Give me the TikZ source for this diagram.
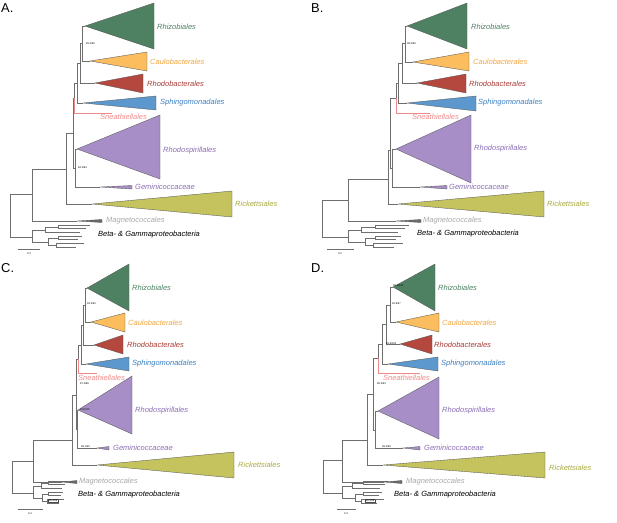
\documentclass[tikz,border=0pt]{standalone}
\usepackage{fontspec}
\setsansfont{Liberation Sans}
\usetikzlibrary{positioning}
\definecolor{rhizo}{HTML}{4E8162}
\definecolor{caulo}{HTML}{FBBD5E}
\definecolor{caulotext}{HTML}{F3A63E}
\definecolor{rhodob}{HTML}{B4473E}
\definecolor{rhodobtext}{HTML}{A93B35}
\definecolor{sphingo}{HTML}{5C98CD}
\definecolor{sphingotext}{HTML}{3C7FC0}
\definecolor{sneath}{HTML}{F08A8A}
\definecolor{rhodosp}{HTML}{A78EC6}
\definecolor{rhodosptext}{HTML}{8B6DB5}
\definecolor{rickett}{HTML}{C4C35E}
\definecolor{ricketttext}{HTML}{A9A940}
\definecolor{magneto}{HTML}{6A6A6A}
\definecolor{magnetotext}{HTML}{A8A8A8}
\definecolor{branchgrey}{HTML}{6E6E6E}

\tikzset{
  branch/.style={draw=branchgrey, line width=0.35pt},
  clade/.style={draw=black!65, line width=0.3pt},
  taxon/.style={anchor=west, inner sep=0pt, font=\sffamily\itshape\fontsize{6.4}{7}\selectfont},
  support/.style={anchor=west, inner sep=0pt, font=\sffamily\fontsize{2.2}{2.5}\selectfont},
  tag/.style={anchor=base west, inner sep=0pt, font=\sffamily\fontsize{11}{12}\selectfont},
}

% collapsed clade: apex, right x, top y, bottom y, colour
\newcommand{\clade}[5]{\filldraw[clade, fill=#5] (#1) -- (#2,#3) -- (#2,#4) -- cycle;}

% backbone of the tree, same topology in every panel
\newcommand{\skeleton}[1]{%
  \draw[branch] (#1-root) |- (#1-n0);
  \draw[branch] (#1-root) |- (#1-og);
  \draw[branch] (#1-n0) |- (#1-n1);
  \draw[branch] (#1-n0) |- (#1-mag);
  \draw[branch] (#1-n1) |- (#1-n2);
  \draw[branch] (#1-n1) |- (#1-ric);
  \draw[branch] (#1-n2) |- (#1-nd);
  \draw[branch] (#1-n2) |- (#1-n4);
  \draw[branch, draw=sneath] (#1-nd) |- (#1-snt);
  \draw[branch] (#1-nd) |- (#1-nc);
  \draw[branch] (#1-nc) |- (#1-nb);
  \draw[branch] (#1-nc) |- (#1-sph);
  \draw[branch] (#1-nb) |- (#1-na);
  \draw[branch] (#1-nb) |- (#1-rhb);
  \draw[branch] (#1-na) |- (#1-rhz);
  \draw[branch] (#1-na) |- (#1-cau);
  \draw[branch] (#1-n4) |- (#1-rsp);
  \draw[branch] (#1-n4) |- (#1-gem);
}

% Beta- & Gammaproteobacteria outgroup: panel, horizontal scale
\newcommand{\outgroup}[2]{%
  \begin{scope}[shift={(#1-og)}, xscale=#2]
    \coordinate (#1-s1) at (13,-7);
    \coordinate (#1-s2) at (16,5);
    \coordinate (#1-t1) at (26,-10);
    \coordinate (#1-t2) at (26,1);
    \coordinate (#1-t3) at (24,8);
    \coordinate (#1-l1) at (58,-12);
    \coordinate (#1-l2) at (54,-9);
    \coordinate (#1-l3) at (48,-5);
    \coordinate (#1-l4) at (50,-1);
    \coordinate (#1-l5) at (46,2);
    \coordinate (#1-l6) at (52,6);
    \coordinate (#1-l7) at (44,10);
    \draw[branch] (#1-og) |- (#1-s1);
    \draw[branch] (#1-og) |- (#1-s2);
    \draw[branch] (#1-s1) |- (#1-t1);
    \draw[branch] (#1-s1) |- (#1-l3);
    \draw[branch] (#1-t1) |- (#1-l1);
    \draw[branch] (#1-t1) |- (#1-l2);
    \draw[branch] (#1-s2) |- (#1-t2);
    \draw[branch] (#1-s2) |- (#1-t3);
    \draw[branch] (#1-t2) |- (#1-l4);
    \draw[branch] (#1-t2) |- (#1-l5);
    \draw[branch] (#1-t3) |- (#1-l6);
    \draw[branch] (#1-t3) |- (#1-l7);
  \end{scope}
}

\begin{document}
\begin{tikzpicture}[x=0.03cm, y=-0.03cm]
  \useasboundingbox (0,0) rectangle (617,522);

  % ---------------- Panel A ----------------
  \node[tag] (A-tag) at (1,12) {A.};
  \coordinate (A-root) at (10,215);
  \coordinate (A-n0) at (32,194);
  \coordinate (A-og) at (32,237);
  \coordinate (A-n1) at (66,169);
  \coordinate (A-mag) at (77,221);
  \coordinate (A-n2) at (73,133);
  \coordinate (A-ric) at (92,204);
  \coordinate (A-nd) at (74,98);
  \coordinate (A-n4) at (75,168);
  \coordinate (A-nc) at (77,83);
  \coordinate (A-snt) at (112,113);
  \coordinate (A-nb) at (80,63);
  \coordinate (A-sph) at (83,103);
  \coordinate (A-na) at (82,43);
  \coordinate (A-rhb) at (95,83);
  \coordinate (A-rhz) at (85,26);
  \coordinate (A-cau) at (90,61);
  \coordinate (A-rsp) at (77,149);
  \coordinate (A-gem) at (100,187);
  \skeleton{A}
  \outgroup{A}{1}
  \clade{A-rhz}{154}{3}{49}{rhizo}
  \clade{A-cau}{147}{52}{71}{caulo}
  \clade{A-rhb}{143}{74}{93}{rhodob}
  \clade{A-sph}{156}{96}{110}{sphingo}
  \clade{A-rsp}{160}{115}{179}{rhodosp}
  \clade{A-gem}{132}{185.5}{189}{rhodosp}
  \clade{A-ric}{232}{191}{217}{rickett}
  \clade{A-mag}{102}{219.5}{222.5}{magneto}
  \node[taxon, text=rhizo] (A-rhz-lab) at (157,27) {Rhizobiales};
  \node[taxon, text=caulotext] (A-cau-lab) at (150,62) {Caulobacterales};
  \node[taxon, text=rhodobtext] (A-rhb-lab) at (147,84) {Rhodobacterales};
  \node[taxon, text=sphingotext] (A-sph-lab) at (160,103) {Sphingomonadales};
  \node[taxon, text=sneath] (A-snt-lab) at (100,117) {Sneathiellales};
  \node[taxon, text=rhodosptext] (A-rsp-lab) at (163,151) {Rhodospirillales};
  \node[taxon, text=rhodosptext] (A-gem-lab) at (135,187) {Geminicoccaceae};
  \node[taxon, text=ricketttext] (A-ric-lab) at (235,204) {Rickettsiales};
  \node[taxon, text=magnetotext] (A-mag-lab) at (106,221) {Magnetococcales};
  \node[taxon] (A-og-lab) at (98,235) {Beta- \& Gammaproteobacteria};
  \node[support] (A-sup1) at (86,44) {99.4/99};
  \node[support] (A-sup2) at (78,168) {84.2/84};
  \coordinate (A-bar0) at (18,249);
  \coordinate (A-bar1) at (40,249);
  \draw[branch] (A-bar0) -- (A-bar1);
  \node[support, anchor=north] (A-barlab) at (29,252) {0.3};

  % ---------------- Panel B ----------------
  \node[tag] (B-tag) at (311,12) {B.};
  \coordinate (B-root) at (322,218);
  \coordinate (B-n0) at (348,200);
  \coordinate (B-og) at (348,237);
  \coordinate (B-n1) at (388,179);
  \coordinate (B-mag) at (396,221);
  \coordinate (B-n2) at (390,150);
  \coordinate (B-ric) at (398,204);
  \coordinate (B-nd) at (396,98);
  \coordinate (B-n4) at (392,168);
  \coordinate (B-nc) at (398,83);
  \coordinate (B-snt) at (430,113);
  \coordinate (B-nb) at (402,63);
  \coordinate (B-sph) at (407,103);
  \coordinate (B-na) at (405,43);
  \coordinate (B-rhb) at (417,83);
  \coordinate (B-rhz) at (407,26);
  \coordinate (B-cau) at (413,62);
  \coordinate (B-rsp) at (396,149);
  \coordinate (B-gem) at (420,187);
  \skeleton{B}
  \outgroup{B}{1.05}
  \clade{B-rhz}{467}{3}{49}{rhizo}
  \clade{B-cau}{469}{52}{71}{caulo}
  \clade{B-rhb}{466}{74}{93}{rhodob}
  \clade{B-sph}{476}{96}{111}{sphingo}
  \clade{B-rsp}{471}{115}{183}{rhodosp}
  \clade{B-gem}{447}{185.5}{189}{rhodosp}
  \clade{B-ric}{544}{191}{217}{rickett}
  \clade{B-mag}{421}{219.5}{222.5}{magneto}
  \node[taxon, text=rhizo] (B-rhz-lab) at (471,27) {Rhizobiales};
  \node[taxon, text=caulotext] (B-cau-lab) at (473,62) {Caulobacterales};
  \node[taxon, text=rhodobtext] (B-rhb-lab) at (469,84) {Rhodobacterales};
  \node[taxon, text=sphingotext] (B-sph-lab) at (478,103) {Sphingomonadales};
  \node[taxon, text=sneath] (B-snt-lab) at (412,117) {Sneathiellales};
  \node[taxon, text=rhodosptext] (B-rsp-lab) at (474,149) {Rhodospirillales};
  \node[taxon, text=rhodosptext] (B-gem-lab) at (449,187) {Geminicoccaceae};
  \node[taxon, text=ricketttext] (B-ric-lab) at (547,204) {Rickettsiales};
  \node[taxon, text=magnetotext] (B-mag-lab) at (423,221) {Magnetococcales};
  \node[taxon] (B-og-lab) at (417,234) {Beta- \& Gammaproteobacteria};
  \node[support] (B-sup1) at (407,44) {98.0/99};
  \coordinate (B-bar0) at (327,249);
  \coordinate (B-bar1) at (354,249);
  \draw[branch] (B-bar0) -- (B-bar1);
  \node[support, anchor=north] (B-barlab) at (340,252) {0.2};

  % ---------------- Panel C ----------------
  \node[tag] (C-tag) at (1,272) {C.};
  \coordinate (C-root) at (12,477);
  \coordinate (C-n0) at (33,461);
  \coordinate (C-og) at (33,493);
  \coordinate (C-n1) at (72,440);
  \coordinate (C-mag) at (62,482);
  \coordinate (C-n2) at (76,395);
  \coordinate (C-ric) at (97,465);
  \coordinate (C-nd) at (78,359);
  \coordinate (C-n4) at (77,429);
  \coordinate (C-nc) at (81,345);
  \coordinate (C-snt) at (97,373);
  \coordinate (C-nb) at (83,325);
  \coordinate (C-sph) at (86,364);
  \coordinate (C-na) at (85,305);
  \coordinate (C-rhb) at (94,345);
  \coordinate (C-rhz) at (87,288);
  \coordinate (C-cau) at (91,322);
  \coordinate (C-rsp) at (78,410);
  \coordinate (C-gem) at (97,448);
  \skeleton{C}
  \outgroup{C}{0.6}
  \clade{C-rhz}{129}{264}{311}{rhizo}
  \clade{C-cau}{125}{313}{332}{caulo}
  \clade{C-rhb}{123}{335}{354}{rhodob}
  \clade{C-sph}{129}{357}{371}{sphingo}
  \clade{C-rsp}{132}{376}{434}{rhodosp}
  \clade{C-gem}{109}{446.5}{450}{rhodosp}
  \clade{C-ric}{234}{452}{478}{rickett}
  \clade{C-mag}{77}{480.5}{483.5}{magneto}
  \node[taxon, text=rhizo] (C-rhz-lab) at (132,288) {Rhizobiales};
  \node[taxon, text=caulotext] (C-cau-lab) at (128,323) {Caulobacterales};
  \node[taxon, text=rhodobtext] (C-rhb-lab) at (127,345) {Rhodobacterales};
  \node[taxon, text=sphingotext] (C-sph-lab) at (132,364) {Sphingomonadales};
  \node[taxon, text=sneath] (C-snt-lab) at (78,378) {Sneathiellales};
  \node[taxon, text=rhodosptext] (C-rsp-lab) at (135,411) {Rhodospirillales};
  \node[taxon, text=rhodosptext] (C-gem-lab) at (113,448) {Geminicoccaceae};
  \node[taxon, text=ricketttext] (C-ric-lab) at (238,465) {Rickettsiales};
  \node[taxon, text=magnetotext] (C-mag-lab) at (79,482) {Magnetococcales};
  \node[taxon] (C-og-lab) at (78,495) {Beta- \& Gammaproteobacteria};
  \node[support] (C-sup1) at (87,304) {94.3/95};
  \node[support] (C-sup2) at (80,384) {87.2/88};
  \node[support] (C-sup3) at (80,410) {100/100};
  \node[support] (C-sup4) at (81,447) {99.1/99};
  \node[support, draw=black!70, fill=white, inner sep=0.4pt] (C-sup5) at (48,501) {95.1/96};
  \coordinate (C-bar0) at (18,509);
  \coordinate (C-bar1) at (43,509);
  \draw[branch] (C-bar0) -- (C-bar1);
  \node[support, anchor=north] (C-barlab) at (30,512) {0.4};

  % ---------------- Panel D ----------------
  \node[tag] (D-tag) at (311,272) {D.};
  \coordinate (D-root) at (323,476);
  \coordinate (D-n0) at (342,460);
  \coordinate (D-og) at (342,493);
  \coordinate (D-n1) at (367,440);
  \coordinate (D-mag) at (384,482);
  \coordinate (D-n2) at (373,394);
  \coordinate (D-ric) at (383,465);
  \coordinate (D-nd) at (378,358);
  \coordinate (D-n4) at (375,430);
  \coordinate (D-nc) at (382,344);
  \coordinate (D-snt) at (420,373);
  \coordinate (D-nb) at (386,324);
  \coordinate (D-sph) at (388,364);
  \coordinate (D-na) at (390,305);
  \coordinate (D-rhb) at (400,344);
  \coordinate (D-rhz) at (393,287);
  \coordinate (D-cau) at (396,322);
  \coordinate (D-rsp) at (378,411);
  \coordinate (D-gem) at (403,448);
  \skeleton{D}
  \outgroup{D}{0.8}
  \clade{D-rhz}{435}{264}{311}{rhizo}
  \clade{D-cau}{439}{313}{332}{caulo}
  \clade{D-rhb}{432}{335}{354}{rhodob}
  \clade{D-sph}{438}{357}{371}{sphingo}
  \clade{D-rsp}{439}{377}{439}{rhodosp}
  \clade{D-gem}{420}{446.5}{450}{rhodosp}
  \clade{D-ric}{545}{452}{478}{rickett}
  \clade{D-mag}{402}{480.5}{483.5}{magneto}
  \node[taxon, text=rhizo] (D-rhz-lab) at (438,288) {Rhizobiales};
  \node[taxon, text=caulotext] (D-cau-lab) at (442,323) {Caulobacterales};
  \node[taxon, text=rhodobtext] (D-rhb-lab) at (434,345) {Rhodobacterales};
  \node[taxon, text=sphingotext] (D-sph-lab) at (441,364) {Sphingomonadales};
  \node[taxon, text=sneath] (D-snt-lab) at (383,378) {Sneathiellales};
  \node[taxon, text=rhodosptext] (D-rsp-lab) at (442,411) {Rhodospirillales};
  \node[taxon, text=rhodosptext] (D-gem-lab) at (424,448) {Geminicoccaceae};
  \node[taxon, text=ricketttext] (D-ric-lab) at (549,468) {Rickettsiales};
  \node[taxon, text=magnetotext] (D-mag-lab) at (406,482) {Magnetococcales};
  \node[taxon] (D-og-lab) at (394,495) {Beta- \& Gammaproteobacteria};
  \node[support] (D-sup1) at (393,286) {96.2/100};
  \node[support] (D-sup2) at (392,304) {92.8/97};
  \node[support] (D-sup3) at (386,344) {99.9/100};
  \node[support] (D-sup4) at (377,384) {86.3/93};
  \node[support] (D-sup5) at (382,447) {99.4/99};
  \node[support, draw=black!70, fill=white, inner sep=0.4pt] (D-sup6) at (365,501) {99.1/99};
  \coordinate (D-bar0) at (337,509);
  \coordinate (D-bar1) at (356,509);
  \draw[branch] (D-bar0) -- (D-bar1);
  \node[support, anchor=north] (D-barlab) at (346,512) {0.3};
\end{tikzpicture}
\end{document}
